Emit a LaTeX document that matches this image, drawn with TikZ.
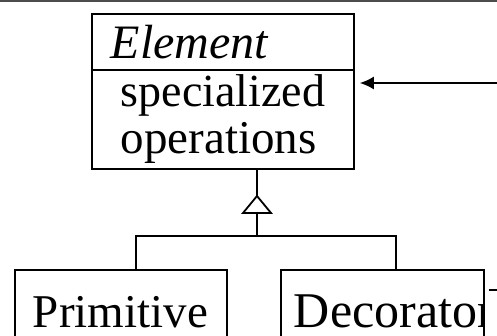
\documentclass[tikz,border=0pt]{standalone}
\usepackage{fontspec}
\setmainfont{Liberation Serif}
\usetikzlibrary{arrows.meta,calc}
\begin{document}
\begin{tikzpicture}[x=1pt,y=-1pt,line width=1.8pt,
  classbox/.style={draw,rectangle,inner sep=0pt,anchor=north west},
  label/.style={anchor=base west,inner sep=0pt},
  link/.style={draw,line width=1.8pt},
  rule/.style={draw=black!70,line width=2pt}]
\useasboundingbox (0,0) rectangle (497,335);

% header rule
\draw[rule] (0,1) coordinate (ruleL) -- (497,1) coordinate (ruleR);

% abstract class Element
\node[classbox,minimum width=262pt,minimum height=155pt] (elem) at (91,13) {};
\draw ($(elem.north west)+(0,57)$) coordinate (sepL) -- (sepL -| elem.east) coordinate (sepR);
\node[label,font=\fontsize{48}{48}\selectfont] (elemname) at (110,58) {\itshape Element};
\node[label,font=\fontsize{46}{46}\selectfont] (op1) at (120,106) {specialized};
\node[label,font=\fontsize{47}{47}\selectfont] (op2) at (120,153) {operations};

% incoming association arrow
\coordinate (inR) at (497,83);
\draw[-{Latex[length=14pt,width=13pt]}] (inR) -- ([xshift=5pt]elem.east |- inR);

% subclasses
\node[classbox,minimum width=212pt,minimum height=110pt] (prim) at (14,269) {};
\node[classbox,minimum width=203pt,minimum height=110pt] (deco) at (280,269) {};
\node[label,font=\fontsize{47}{47}\selectfont] (primname) at (32,327) {Primitive};
\begin{scope}
  \clip (deco.north west) rectangle (deco.south east);
  \node[label,font=\fontsize{50}{50}\selectfont] (deconame) at (293,327) {Decorator};
\end{scope}

% outgoing stub from Decorator
\coordinate (decoOut) at (497,290);
\draw ([xshift=4pt]deco.east |- decoOut) -- (decoOut);

% generalization
\coordinate (apex) at (257,196);
\coordinate (baseL) at (243,213);
\coordinate (baseR) at (271,213);
\coordinate (baseM) at (257,213);
\coordinate (bar) at (257,236);
\draw[link] (elem.south -| apex) -- (apex);
\draw[link,line join=miter] (apex) -- (baseR) -- (baseL) -- cycle;
\draw[link] (baseM) -- (bar);
\draw[link] (prim.north -| 136,0) |- (bar) -| (deco.north -| 396,0);
\end{tikzpicture}
\end{document}
